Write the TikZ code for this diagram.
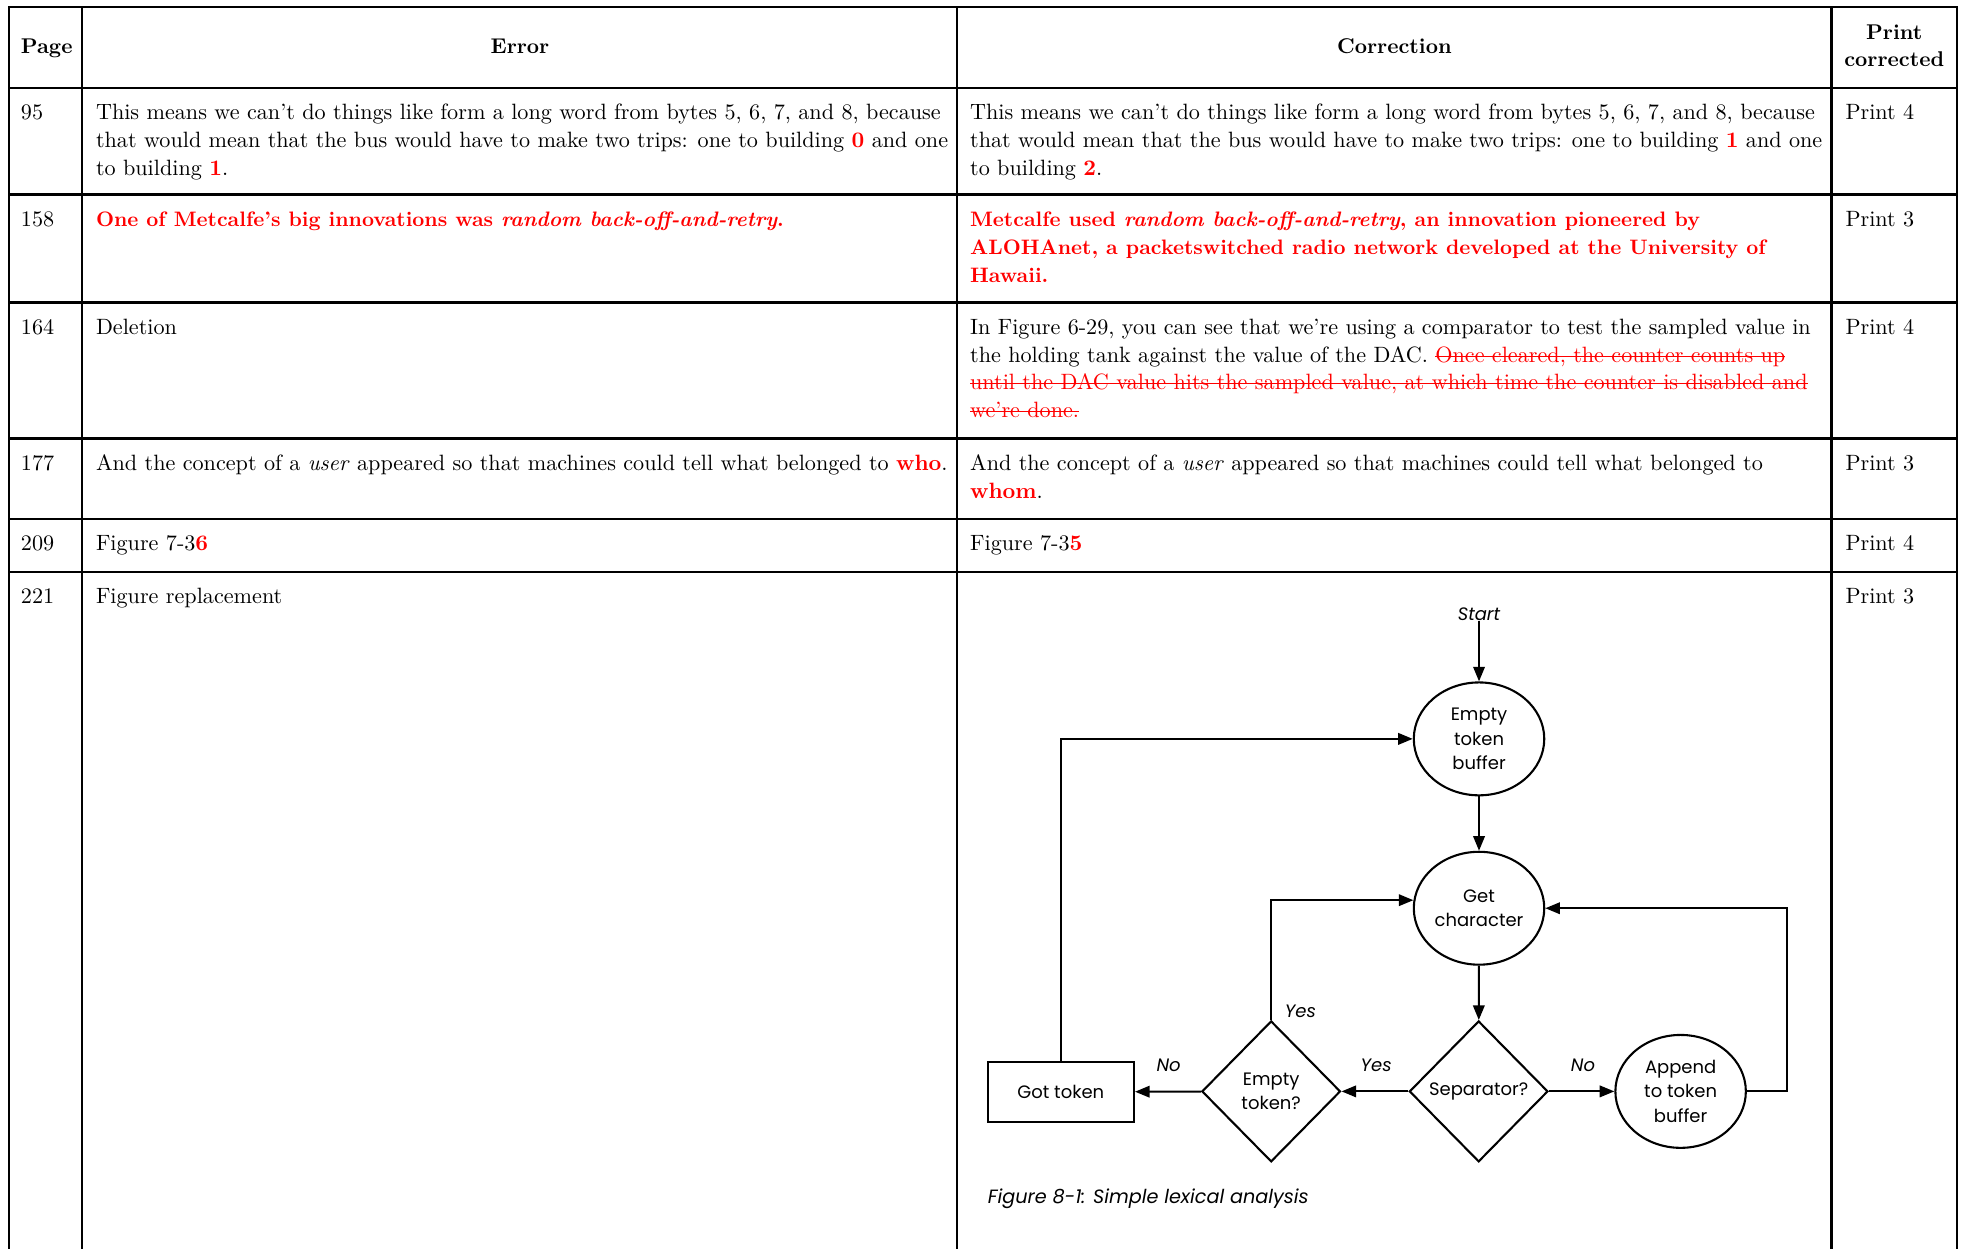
\documentclass[tikz,border=0pt]{standalone}
\usepackage{fontspec}
\newfontfamily\figfont{Poppins}
\usetikzlibrary{arrows.meta,shapes.geometric}
\definecolor{errred}{RGB}{255,0,0}
\newcommand\tabfont{\fontsize{10.6}{13.5}\selectfont}
\newcommand\boldfont{\fontsize{10}{13.5}\selectfont\bfseries}
\newcommand\headfont{\fontsize{10.2}{13.5}\selectfont\bfseries}
\newcommand\figtxt{\figfont\fontsize{8.6}{11.6}\selectfont}
\newcommand\rd[1]{\textcolor{errred}{\bfseries #1}}
\newsavebox\strkbox
\newcommand\strk[1]{\sbox\strkbox{#1}\rlap{\usebox\strkbox}\rule[0.55ex]{\wd\strkbox}{0.6pt}}
\tikzset{
  tbl/.style={line width=1.2pt, black},
  cell/.style={anchor=base west, inner sep=0pt, font=\tabfont},
  bcell/.style={anchor=base west, inner sep=0pt, font=\boldfont, text=errred},
  hcell/.style={anchor=base, inner sep=0pt, font=\headfont},
  ell/.style={ellipse, draw, line width=1pt, minimum width=62.4pt, minimum height=54pt, inner sep=0pt, align=center, font=\figtxt},
  dia/.style={diamond, draw, line width=1pt, minimum width=66.3pt, minimum height=67.4pt, inner sep=0pt, align=center, font=\figtxt},
  boxn/.style={rectangle, draw, line width=1pt, minimum width=70pt, minimum height=28.6pt, inner sep=0pt, font=\figtxt},
  lbl/.style={inner sep=0pt, font=\figtxt\itshape},
  arr/.style={line width=1pt, -{Triangle[length=7pt,width=5.5pt]}},
}
\begin{document}
\begin{tikzpicture}[x=0.6pt,y=-0.6pt]
\useasboundingbox (0,0) rectangle (1568,995.6);
% table grid
\draw[tbl] (7,995.6) -- (7,5.5) -- (1560,5.5) -- (1560,995.6);
\foreach \xx in {65.5,762.8,1460} \draw[tbl] (\xx,5.5) -- (\xx,995.6);
\foreach \yy in {70,155.2,241.3,349.7,413.7,456} \draw[tbl] (7,\yy) -- (1560,\yy);
% header
\node[hcell, anchor=base west] (hpage) at (16.4,42.5) {Page};
\node[hcell] (herr) at (414.5,42.5) {Error};
\node[hcell] (hcor) at (1111.5,42.5) {Correction};
\node[hcell] (hpr1) at (1510,31.4) {Print};
\node[hcell] (hpr2) at (1510,53.2) {corrected};
% page numbers
\node[cell] (p1) at (16.4,95.1) {95};
\node[cell] (p2) at (16.4,180.7) {158};
\node[cell] (p3) at (16.4,266.6) {164};
\node[cell] (p4) at (16.4,375) {177};
\node[cell] (p5) at (16.4,439) {209};
\node[cell] (p6) at (16.4,481.3) {221};
% print column
\node[cell] (q1) at (1470.8,95.1) {Print 4};
\node[cell] (q2) at (1470.8,180.7) {Print 3};
\node[cell] (q3) at (1470.8,266.6) {Print 4};
\node[cell] (q4) at (1470.8,375) {Print 3};
\node[cell] (q5) at (1470.8,439) {Print 4};
\node[cell] (q6) at (1470.8,481.3) {Print 3};
% row 95
\node[cell] (e1a) at (76.2,95.1) {This means we can’t do things like form a long word from bytes 5, 6, 7, and 8, because};
\node[cell] (e1b) at (76.2,117.4) {that would mean that the bus would have to make two trips: one to building \rd{0} and one};
\node[cell] (e1c) at (76.2,139.7) {to building \rd{1}.};
\node[cell] (c1a) at (773,95.1) {This means we can’t do things like form a long word from bytes 5, 6, 7, and 8, because};
\node[cell] (c1b) at (773,117.4) {that would mean that the bus would have to make two trips: one to building \rd{1} and one};
\node[cell] (c1c) at (773,139.7) {to building \rd{2}.};
% row 158
\node[bcell] (e2a) at (76.2,180.7) {One of Metcalfe’s big innovations was \textit{random back-off-and-retry}.};
\node[bcell] (c2a) at (773,180.7) {Metcalfe used \textit{random back-off-and-retry}, an innovation pioneered by};
\node[bcell] (c2b) at (773,203) {ALOHAnet, a packetswitched radio network developed at the University of};
\node[bcell] (c2c) at (773,225.3) {Hawaii.};
% row 164
\node[cell] (e3a) at (76.2,266.6) {Deletion};
\node[cell] (c3a) at (773,266.6) {In Figure 6-29, you can see that we’re using a comparator to test the sampled value in};
\node[cell] (c3b) at (773,288.6) {the holding tank against the value of the DAC. \textcolor{errred}{\strk{Once cleared, the counter counts up}}};
\node[cell, text=errred] (c3c) at (773,310.6) {\strk{until the DAC value hits the sampled value, at which time the counter is disabled and}};
\node[cell, text=errred] (c3d) at (773,332.6) {\strk{we’re done.}};
% row 177
\node[cell] (e4a) at (76.2,375) {And the concept of a \textit{user} appeared so that machines could tell what belonged to \rd{who}.};
\node[cell] (c4a) at (773,375) {And the concept of a \textit{user} appeared so that machines could tell what belonged to};
\node[cell] (c4b) at (773,397) {\rd{whom}.};
% row 209
\node[cell] (e5a) at (76.2,439) {Figure 7-3\rd{6}};
\node[cell] (c5a) at (773,439) {Figure 7-3\rd{5}};
% row 221
\node[cell] (e6a) at (76.2,481.3) {Figure replacement};
% flowchart
\node[lbl] (start) at (1179,489.6) {Start};
\node[ell] (etb) at (1179,589) {Empty\\token\\buffer};
\node[ell] (gc) at (1179,724) {Get\\character};
\node[dia] (sep) at (1178.7,870) {Separator?};
\node[dia] (etq) at (1013.3,870) {Empty\\token?};
\node[boxn] (got) at (845.6,870.4) {Got token};
\node[ell] (app) at (1339.7,870) {Append\\to token\\buffer};
\coordinate (rloop) at (1424.2,870);
\draw[arr] (start) -- (etb);
\draw[arr] (etb) -- (gc);
\draw[arr] (gc) -- (sep);
\draw[arr] (sep) -- (app);
\draw[arr] (sep) -- (etq);
\draw[arr] (etq) -- (got);
\draw[arr] (app.east) -- (rloop) |- (gc.east);
\draw[arr] (etq.north) |- (gc.173);
\draw[arr] (got.north) |- (etb.west);
\node[lbl] (yes1) at (1036.6,806.4) {Yes};
\node[lbl] (no1) at (931.6,849) {No};
\node[lbl] (yes2) at (1097,849) {Yes};
\node[lbl] (no2) at (1261.9,849) {No};
\node[lbl, anchor=west, font=\figfont\fontsize{9.2}{11.6}\selectfont\itshape] (cap) at (787.2,955.6) {Figure 8-1: Simple lexical analysis};
\end{tikzpicture}
\end{document}
